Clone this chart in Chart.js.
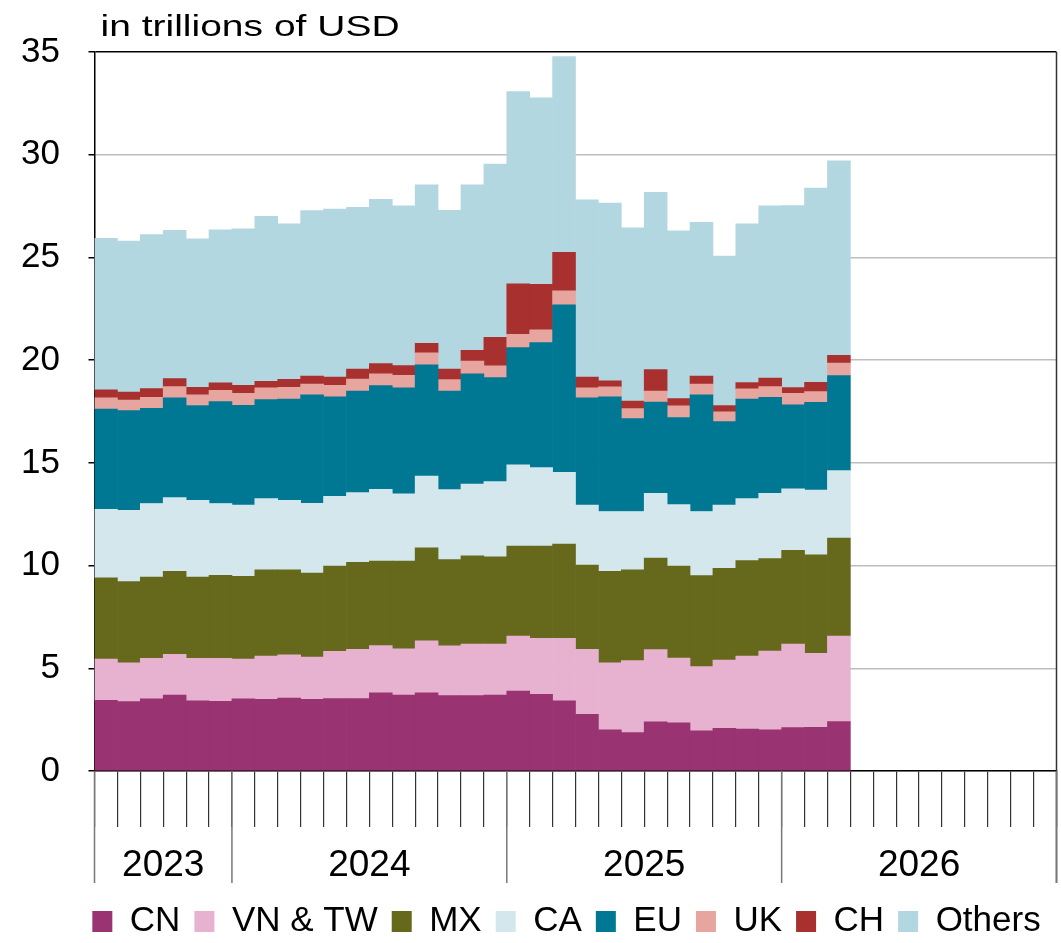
<!DOCTYPE html>
<html lang="en">
<head>
<meta charset="utf-8">
<title>Imports by origin</title>
<script src="https://cdn.jsdelivr.net/npm/chart.js@4.4.1/dist/chart.umd.min.js"></script>
<style>
  html, body { margin: 0; padding: 0; background: #fff; }
  #wrap { position: relative; width: 1061px; height: 943px; }
</style>
</head>
<body>
<div id="wrap"><canvas id="myChart"></canvas></div>
<script>
// Categories: one bar per month, axis runs Jul 2023 - Dec 2026
const monthNames = ['Jan', 'Feb', 'Mar', 'Apr', 'May', 'Jun', 'Jul', 'Aug', 'Sep', 'Oct', 'Nov', 'Dec'];
const months = [];
for (let y = 2023; y <= 2026; y++) {
  for (let m = (y === 2023 ? 6 : 0); m < 12; m++) {
    months.push(monthNames[m] + ' ' + y);
  }
}

// Year labels under the axis, and the month index where each year starts
const yearLabels = ['2023', '2024', '2025', '2026'];
const yearEdges = [0, 6, 18, 30, 42];

// Y axis ticks
const yTicks = [0, 5, 10, 15, 20, 25, 30, 35];

// Series, in trillions of USD (Jul 2023 - Mar 2026)
const cn = [3.44, 3.38, 3.51, 3.70, 3.42, 3.39, 3.51, 3.49, 3.55, 3.49, 3.52, 3.52,
            3.80, 3.70, 3.80, 3.67, 3.67, 3.70, 3.89, 3.73, 3.41, 2.76, 2.00, 1.87,
            2.39, 2.34, 1.96, 2.08, 2.04, 2.00, 2.11, 2.13, 2.40];
const vnTw = [2.01, 1.88, 1.98, 1.98, 2.07, 2.10, 1.94, 2.11, 2.11, 2.06, 2.31, 2.40,
              2.30, 2.25, 2.54, 2.42, 2.51, 2.48, 2.68, 2.73, 3.05, 3.16, 3.27, 3.50,
              3.52, 3.16, 3.12, 3.32, 3.56, 3.84, 4.07, 3.60, 4.17];
const mx = [3.95, 3.96, 3.95, 4.04, 3.95, 4.04, 4.03, 4.19, 4.13, 4.09, 4.15, 4.24,
            4.12, 4.27, 4.52, 4.20, 4.29, 4.25, 4.38, 4.49, 4.59, 4.11, 4.45, 4.42,
            4.46, 4.48, 4.43, 4.47, 4.64, 4.50, 4.56, 4.79, 4.77];
const ca = [3.34, 3.47, 3.58, 3.59, 3.74, 3.49, 3.46, 3.47, 3.39, 3.39, 3.39, 3.39,
            3.49, 3.27, 3.50, 3.41, 3.50, 3.66, 3.95, 3.82, 3.49, 2.92, 2.91, 2.84,
            3.15, 2.99, 3.12, 3.07, 3.02, 3.18, 2.99, 3.16, 3.28];
const eu = [4.88, 4.85, 4.64, 4.85, 4.61, 4.96, 4.86, 4.82, 4.93, 5.28, 4.85, 4.95,
            5.05, 5.16, 5.41, 4.80, 5.36, 5.06, 5.71, 6.08, 8.15, 5.22, 5.58, 4.52,
            4.44, 4.23, 5.68, 4.07, 4.84, 4.67, 4.09, 4.27, 4.63];
const uk = [0.55, 0.52, 0.53, 0.55, 0.52, 0.55, 0.59, 0.57, 0.57, 0.53, 0.56, 0.58,
            0.57, 0.61, 0.58, 0.55, 0.62, 0.57, 0.65, 0.62, 0.69, 0.48, 0.49, 0.49,
            0.54, 0.57, 0.52, 0.47, 0.50, 0.52, 0.57, 0.52, 0.61];
const ch = [0.38, 0.39, 0.42, 0.39, 0.37, 0.36, 0.39, 0.32, 0.39, 0.39, 0.39, 0.48,
            0.50, 0.47, 0.47, 0.51, 0.53, 1.39, 2.46, 2.22, 1.87, 0.53, 0.29, 0.37,
            1.04, 0.36, 0.40, 0.31, 0.31, 0.42, 0.27, 0.45, 0.38];
const others = [7.38, 7.34, 7.50, 7.22, 7.22, 7.45, 7.61, 8.03, 7.56, 8.05, 8.18, 7.88,
                8.00, 7.78, 7.71, 7.73, 8.05, 8.43, 9.35, 9.08, 9.53, 8.62, 8.66, 8.43,
                8.63, 8.16, 7.48, 7.28, 7.72, 8.38, 8.86, 9.46, 9.46];

const FONT = "'Liberation Sans', Arial, sans-serif";
Chart.defaults.font.family = FONT;
Chart.defaults.color = '#000';

function series(label, data, color) {
  return { label: label, data: data, backgroundColor: color, borderWidth: 0, stack: 'all' };
}

// Year labels, year separators, right frame and unit title
const yearAxis = {
  id: 'yearAxis',
  afterLayout(chart) {
    // legend row sits a bit right of the canvas centre in the source
    const legend = chart.legend;
    legend.left = 72;
    legend.right = chart.width;
    legend.width = legend.right - legend.left;
  },
  afterDraw(chart) {
    const ctx = chart.ctx;
    const area = chart.chartArea;
    const x = chart.scales.x;
    const edge = i => x.getPixelForValue(i - 0.5);
    const axisBottom = 883;

    ctx.save();
    // right frame
    ctx.strokeStyle = '#333';
    ctx.lineWidth = 1.5;
    ctx.beginPath();
    ctx.moveTo(area.right, area.top);
    ctx.lineTo(area.right, axisBottom);
    ctx.stroke();

    // year separators
    ctx.strokeStyle = '#777';
    ctx.lineWidth = 1.5;
    yearEdges.forEach(i => {
      const px = edge(i);
      ctx.beginPath();
      ctx.moveTo(px, area.bottom);
      ctx.lineTo(px, axisBottom);
      ctx.stroke();
    });

    // year labels
    ctx.fillStyle = '#000';
    ctx.font = '37px ' + FONT;
    ctx.textAlign = 'center';
    ctx.textBaseline = 'alphabetic';
    yearLabels.forEach((label, i) => {
      const mid = (edge(yearEdges[i]) + edge(yearEdges[i + 1])) / 2;
      ctx.fillText(label, mid, 876);
    });

    // unit title, drawn a bit wide like the source
    ctx.font = '30px ' + FONT;
    ctx.textAlign = 'left';
    ctx.translate(area.left + 6, 36);
    ctx.scale(1.3, 1);
    ctx.fillText('in trillions of USD', 0, 0);
    ctx.restore();
  }
};

const ctx = document.getElementById('myChart');
const myChart = new Chart(ctx, {
  type: 'bar',
  data: {
    labels: months,
    datasets: [
      series('CN', cn, '#993371'),
      series('VN & TW', vnTw, '#e6b2d0'),
      series('MX', mx, '#66691c'),
      series('CA', ca, '#d3e7ec'),
      series('EU', eu, '#007894'),
      series('UK', uk, '#e6a59f'),
      series('CH', ch, '#a8302e'),
      series('Others', others, '#b3d7e0')
    ]
  },
  options: {
    responsive: true,
    maintainAspectRatio: false,
    animation: false,
    datasets: {
      bar: { barPercentage: 1, categoryPercentage: 1 }
    },
    layout: {
      padding: { top: 52, left: 15, right: 4.5, bottom: -6 }
    },
    scales: {
      x: {
        stacked: true,
        z: 1,
        offset: true,
        afterFit: scale => { scale.height = 119; },
        ticks: { display: false },
        border: { display: true, color: '#000', width: 1.5 },
        grid: {
          offset: true,
          drawOnChartArea: true,
          // light lines over the bars every four months
          color: c => (c.index > 0 && c.index % 4 === 0) ? 'rgba(255,255,255,0.45)' : 'rgba(0,0,0,0)',
          tickColor: '#333',
          tickLength: 56,
          lineWidth: 1.2
        }
      },
      y: {
        stacked: true,
        min: 0,
        max: 35,
        afterFit: scale => { scale.width = 79.5; },
        afterBuildTicks: scale => { scale.ticks = yTicks.map(v => ({ value: v })); },
        ticks: {
          padding: 28.5,
          color: '#000',
          font: { size: 35 }
        },
        border: { display: true, color: '#000', width: 1.5 },
        grid: {
          color: c => (c.tick && c.tick.value === 35) ? '#000' : '#bdbdbd',
          tickColor: '#000',
          tickLength: 6,
          lineWidth: 1.5
        }
      }
    },
    plugins: {
      tooltip: { enabled: false },
      legend: {
        position: 'bottom',
        labels: {
          boxWidth: 20,
          boxHeight: 21,
          padding: 14,
          color: '#000',
          font: { size: 35 }
        }
      }
    }
  },
  plugins: [yearAxis]
});
</script>
</body>
</html>
